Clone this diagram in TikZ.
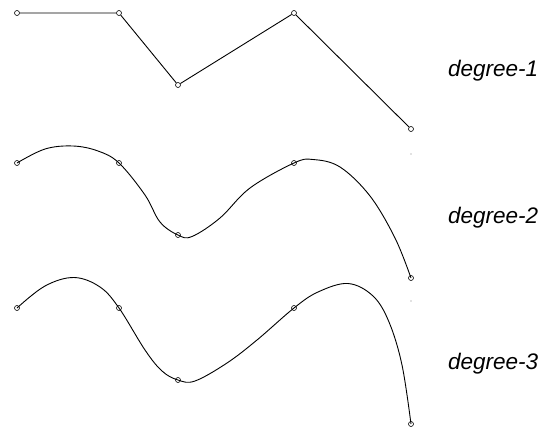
\documentclass[tikz,border=0pt]{standalone}
\usepackage{fontspec}
\setmainfont{Liberation Sans}
\begin{document}
\begin{tikzpicture}[x=1pt,y=-1pt,
  knot/.style={circle,draw,line width=0.6pt,inner sep=0pt,minimum size=5pt},
  curve/.style={line width=0.9pt},
  lbl/.style={anchor=west,font=\fontsize{22.5}{26}\selectfont\itshape,inner sep=0pt}]
\useasboundingbox (0,0) rectangle (550,429);
% degree-1
\node[knot] (a1) at (17,13) {};
\node[knot] (a2) at (119,13) {};
\node[knot] (a3) at (178,85) {};
\node[knot] (a4) at (294,13) {};
\node[knot] (a5) at (411,129) {};
\draw[curve] (a1) -- (a2) -- (a3) -- (a4) -- (a5);
\node[lbl] (l1) at (448,71) {degree-1};
% degree-2
\node[knot] (b1) at (17,163) {};
\node[knot] (b2) at (119,163) {};
\node[knot] (b3) at (178,235) {};
\node[knot] (b4) at (294,163) {};
\node[knot] (b5) at (411,278) {};
\draw[curve] plot[smooth,tension=0.6] coordinates {(b1.center) (45,149) (73,146) (98,151) (b2.center) (145,195) (160,222) (b3.center) (192,236.5) (220,218) (250,188) (b4.center) (313,159.5) (340,167) (370,196) (395,238) (b5.center)};
\node[lbl] (l2) at (448,218) {degree-2};
% degree-3
\node[knot] (c1) at (17,308) {};
\node[knot] (c2) at (119,308) {};
\node[knot] (c3) at (178,380) {};
\node[knot] (c4) at (294,308) {};
\node[knot] (c5) at (411,424) {};
\draw[curve] plot[smooth,tension=0.6] coordinates {(c1.center) (45,286) (74,277.5) (100,287) (c2.center) (145,350) (162,371) (c3.center) (195,381) (227,363) (257,340) (c4.center) (318,292) (348,283.5) (373,296) (389,322) (402,365) (c5.center)};
\node[lbl] (l3) at (448,364) {degree-3};
% stray dots
\fill[gray] (411,154) circle (0.6);
\fill[gray] (411,301) circle (0.6);
\end{tikzpicture}
\end{document}
